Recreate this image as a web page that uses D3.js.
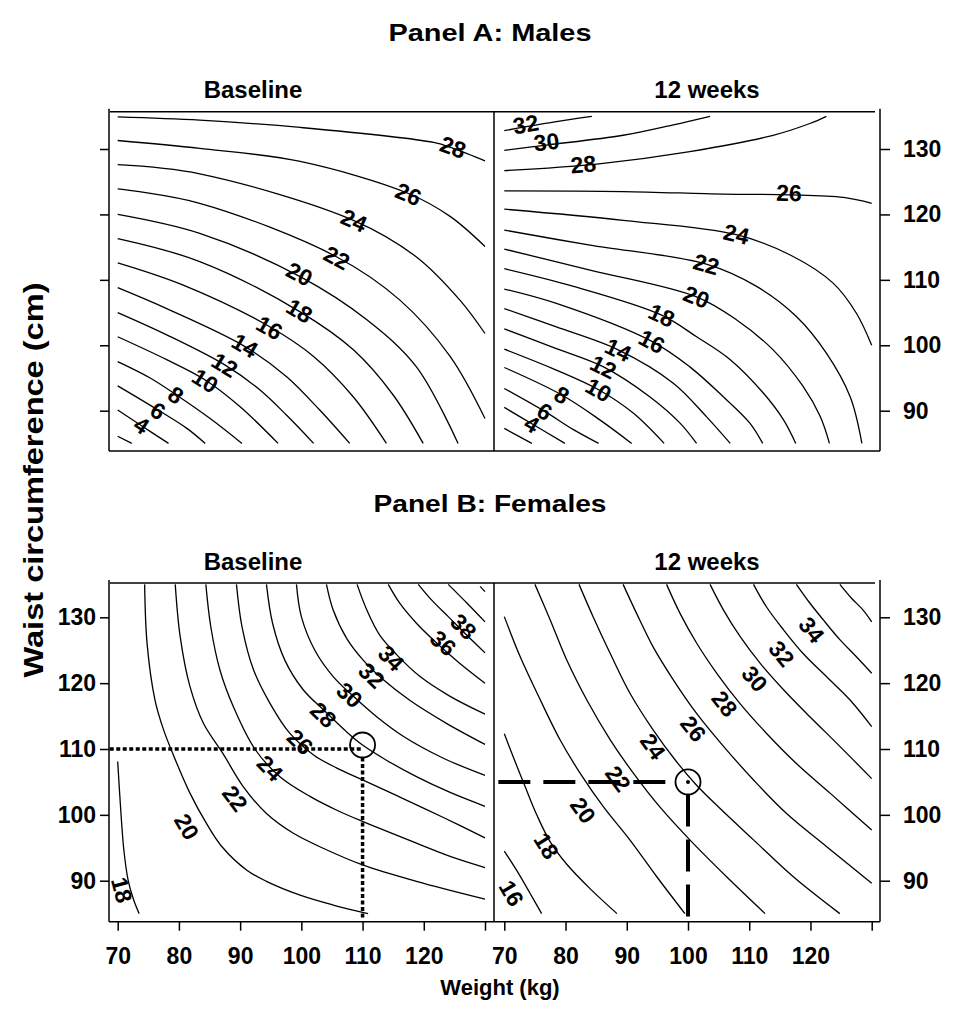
<!DOCTYPE html>
<html>
<head>
<meta charset="utf-8">
<script src="https://cdn.jsdelivr.net/npm/d3@7"></script>
<style>
  body { margin: 0; background: #fff; }
  svg { display: block; font-family: "Liberation Sans", Arial, sans-serif; font-weight: bold; }
</style>
</head>
<body>
<svg id="chart" width="959" height="1023"></svg>
<script>
// tick values
let weightTicks = [70, 80, 90, 100, 110, 120, 130];
let weightLabelled = [70, 80, 90, 100, 110, 120];
let waistTicks = [90, 100, 110, 120, 130];

let panelTitles = ["Panel A: Males", "Panel B: Females"];
let timeTitles = ["Baseline", "12 weeks"];

// contour lines: [level, [[weight, waist], ...]]
let maleBaseLines = [
  [2, [[70,86.1],[72.3,85]]],
  [4, [[70,90.1],[73.9,87.7],[78.3,85]]],
  [6, [[70,93.8],[76.6,90.1],[81.3,87.3],[84.3,85]]],
  [8, [[70,97.5],[75.3,95],[79.6,92.4],[85.1,88.8],[90.3,85]]],
  [10, [[70,101.3],[78,97.8],[84.3,94.7],[90,90.6],[96.2,85]]],
  [12, [[70,105],[78,101.6],[87.5,97],[93.2,93.2],[97.6,89.3],[102,85]]],
  [14, [[70,108.8],[78,105.6],[90.8,99.8],[97.6,95.2],[103,90.1],[107.9,85]]],
  [16, [[70,112.6],[80.7,109.2],[94.9,102.8],[102,98.3],[108.5,92.1],[113.9,85]]],
  [18, [[70,116.3],[83.4,112.8],[99.8,105.1],[108.5,99.3],[115,92.4],[119.9,85]]],
  [20, [[70,120],[83.4,117.1],[99.8,110.5],[110.7,103.9],[118.8,96.7],[125.6,85]]],
  [22, [[70,123.9],[83.4,121.7],[105.8,113.5],[116.1,106.9],[124.3,98.3],[130,88.8]]],
  [24, [[70,127.6],[83.4,126.2],[108.5,119.1],[118.8,113.5],[125.9,106.9],[130,101.8]]],
  [26, [[70,131.3],[83.4,130.1],[99.8,128.1],[117.5,123.2],[124.3,119.7],[130,115.1]]],
  [28, [[70,134.9],[83.4,134.4],[99.8,133.3],[121.6,131],[124.8,130.1],[130,128.2]]]
];
let maleBaseLabels = [[28,124.8,130.3],[26,117.5,123.1],[24,108.6,119.1],[22,105.8,113.4],[20,99.7,110.9],
  [18,99.7,105.3],[16,94.8,102.7],[14,90.8,100],[12,87.5,97],[10,84.3,94.6],[8,79.5,92.4],[6,76.6,90],[4,73.9,87.8]];

let maleWeekLines = [
  [2, [[70,87.3],[74.5,85]]],
  [4, [[70,90.5],[74.5,88],[79.9,85]]],
  [6, [[70,93.4],[76.6,89.9],[81.3,87.1],[85.4,85]]],
  [8, [[70,96.6],[79.4,92.4],[85.6,88.6],[90.8,85]]],
  [10, [[70,99.4],[78.5,96.2],[85.4,93.2],[91.1,89.6],[96.1,85]]],
  [12, [[70,102.5],[78.5,99.5],[86.2,96.7],[93.8,92.1],[98.7,88.1],[101.4,85]]],
  [14, [[70,105.6],[78.5,102.8],[88.6,99.3],[97.6,94.2],[103,89.1],[106.9,85]]],
  [16, [[70,108.6],[78.5,106.4],[94.1,100.6],[100.3,96.7],[105.8,92.1],[110.1,88.1],[112.2,85]]],
  [18, [[70,111.7],[81.3,109],[95.7,104.6],[101.4,101.3],[106.9,97.8],[112.3,92.7],[115.6,88.6],[117.6,85]]],
  [20, [[70,114.7],[84,111.5],[101.4,107.4],[107.9,103.9],[113.9,99.3],[118.8,93.7],[121.6,89.1],[123.1,85]]],
  [22, [[70,117.6],[84,115.3],[103,112.4],[111.2,109],[117.7,104.4],[122.6,98.8],[126.5,92.1],[128.4,85]]],
  [24, [[70,120.8],[89.4,119.1],[107.9,116.9],[116.7,113.8],[123.7,109.5],[127.5,104.9],[130,100]]],
  [26, [[70,123.6],[89.4,123.5],[105.8,123.1],[116.5,123],[125.4,122.6],[130,121.7]]],
  [28, [[70,126.7],[85.1,127.7],[100.3,129.6],[113.9,132.1],[119.9,133.9],[122.6,135]]],
  [30, [[70,129.8],[76.9,130.6],[89.4,132.1],[97.6,133.7],[103.6,135]]],
  [32, [[70,132.8],[73.5,133.4],[78.5,134.2],[84.3,135]]]
];
let maleWeekLabels = [[32,73.5,133.8],[30,76.9,131.1],[28,82.9,127.7],[26,116.5,123.3],[24,107.9,117],
  [22,103,112.4],[20,101.4,107.4],[18,95.7,104.6],[16,94.1,100.6],[14,88.6,99.3],[12,86.2,96.7],
  [10,85.4,93.2],[8,79.4,92.4],[6,76.6,89.9],[4,74.5,88]];

let femaleBaseLines = [
  [18, [[70,108.1],[70.5,100.7],[71,94.7],[71.7,90.1],[72.6,87.1],[73.5,85]]],
  [20, [[74.4,135],[74.8,126],[76.1,117.4],[77.5,112.9],[79,109.3],[81.8,103.3],[84.5,98.7],[87,95.2],[91.1,91.6],[94.3,89.9],[99.8,87.8],[105.2,86.3],[110.9,85]]],
  [22, [[79.4,135],[80.2,127.1],[81.8,119.5],[84,113.9],[87.2,109.3],[90.5,104.3],[94.3,100.2],[98.7,97.2],[104.1,94.7],[110,92.4],[118.8,89.9],[130,87.2]]],
  [24, [[84.4,135],[85.2,128.6],[86.7,122],[88.9,116.4],[92.4,110],[96.5,105.8],[101.4,102.8],[105.8,100.7],[110,99],[118.8,95.7],[124.3,93.7],[130,92]]],
  [26, [[89.4,135],[90.3,128.6],[92.2,122],[94.9,116.9],[98.1,112.4],[102,109.1],[105.8,107.1],[110,105.3],[116.1,102.7],[123.2,99.6],[130,96.5]]],
  [28, [[94.3,135],[95.3,129.1],[97.3,123.5],[100.3,119],[103.9,115.7],[107.4,112.6],[110,110.6],[113.9,108.3],[118.8,105.8],[124.3,103.4],[130,101.3]]],
  [30, [[99.2,135],[100,130.1],[102.2,125],[105.2,121],[108.5,118],[112.3,114.9],[116.7,111.9],[123.2,108.6],[130,106]]],
  [32, [[104.1,135],[105.2,131.1],[107.4,126.8],[110.1,123.5],[113.4,120.5],[117.7,117.4],[123.7,113.9],[130,110.7]]],
  [34, [[109.1,135],[110.7,131.1],[112.8,127.3],[115.6,124.3],[119.4,121],[124.3,118],[130,115.3]]],
  [36, [[114.2,135],[116.1,132.1],[118.8,129.1],[122.1,126.1],[125.9,123],[130,120]]],
  [38, [[119.1,135],[121.3,132.6],[124,130.1],[127,127.3],[130,124.6]]],
  [40, [[124,135],[127,132.2],[130,129.3]]],
  [42, [[129.2,134.7],[130,133.9]]]
];
let femaleBaseLabels = [[18,70.7,88.6],[20,81.3,98.2],[22,89.2,102.5],[24,94.9,107.1],[26,99.8,111.1],
  [28,103.6,115.2],[30,107.9,118.2],[32,111.5,121.2],[34,114.7,123.8],[36,123.2,126.1],[38,126.5,128.6]];

let femaleWeekLines = [
  [16, [[70,94.5],[72,91.6],[74.2,88.1],[76.1,85]]],
  [18, [[70,112.3],[71.5,108.7],[73.4,104.3],[75.3,100],[77.5,95.9],[80.2,92.5],[84,88.8],[88.4,85]]],
  [20, [[70,130.1],[72.6,124],[75.6,118],[79.1,111.4],[82.4,106.3],[86.2,101.2],[90.5,96.2],[94.9,90.6],[99.5,85]]],
  [22, [[75,135],[77.5,129.6],[80.2,123.5],[83.5,117.4],[87.3,111.4],[91.1,106.3],[95.4,101.2],[100.3,96.2],[106.3,90.6],[112.6,85]]],
  [24, [[82.2,135],[84.5,130.1],[87.3,124.5],[90.5,118.5],[94.3,112.9],[98.1,108.1],[101.4,104.5],[105.2,101],[110.7,96.2],[117.2,90.6],[124.8,85]]],
  [26, [[89.4,135],[91.6,130.6],[94.3,125.5],[97.6,120.5],[101.4,115.4],[105.8,110.4],[110.7,105.3],[116.1,100.2],[122.6,95.2],[130,89.6]]],
  [28, [[96.5,135],[98.7,130.6],[101.4,126.1],[104.7,121.5],[108.5,116.9],[112.8,112.4],[117.7,107.8],[123.2,103.3],[130,97.7]]],
  [30, [[103.6,135],[105.8,131.1],[108.5,127.1],[111.8,123],[115.6,119],[119.9,114.9],[124.8,110.4],[130,105.5]]],
  [32, [[110.7,135],[112.8,131.6],[115.6,128.1],[118.8,124.5],[122.6,121],[126.5,117.4],[130,113.4]]],
  [34, [[117.7,135],[119.7,132.4],[122.1,129.6],[124.8,126.6],[127.5,124],[130,121.5]]],
  [36, [[124.8,135],[126.7,132.9],[128.6,131.1],[130,129.3]]]
];
let femaleWeekLabels = [[16,71.2,88.1],[18,76.9,95.3],[20,82.9,100.7],[22,88.6,105.5],[24,94.3,110.4],
  [26,100.9,113.1],[28,106,116.9],[30,110.9,120.7],[32,115.3,124.5],[34,120.2,128.1]];

// worked examples in panel B: [weight, waist]
let femaleBasePoint = [110, 110];
let femaleWeekPoint = [100, 105];
let axisMinWeight = 68.7;
let axisMinWaist = 84.2;

// layout
let frameX = { left: 109, mid: 494, right: 880 };
let rows = [
  { top: 111.7, bottom: 451, y: [410.7, 149], title: 41, sub: 98.3 },
  { top: 583, bottom: 921.7, y: [880.7, 617.3], title: 511.7, sub: 569.5 }
];
let xLeft = d3.scaleLinear().domain([70, 130]).range([117.7, 485]);
let xRight = d3.scaleLinear().domain([70, 130]).range([504.3, 871.7]);

let svg = d3.select("#chart");

function drawPanel(g, lines, labels, x, y) {
    let line = d3.line()
        .x(d => x(d[0]))
        .y(d => y(d[1]))
        .curve(d3.curveCatmullRom.alpha(0.5));

    let paths = g.selectAll("path.contour")
        .data(lines)
        .join("path")
        .attr("class", "contour")
        .attr("d", d => line(d[1]))
        .attr("fill", "none")
        .attr("stroke", "#000")
        .attr("stroke-width", 1.3);

    let byLevel = {};
    paths.each(function (d) { byLevel[d[0]] = this; });

    // labels follow the direction of their line
    for (let lab of labels) {
        let px = x(lab[1]), py = y(lab[2]);
        let node = byLevel[lab[0]];
        let ang = 0;
        if (node) {
            let len = node.getTotalLength();
            let best = 0, bd = Infinity;
            for (let s = 0; s <= len; s += 1) {
                let p = node.getPointAtLength(s);
                let dd = (p.x - px) ** 2 + (p.y - py) ** 2;
                if (dd < bd) { bd = dd; best = s; }
            }
            let a = node.getPointAtLength(Math.max(0, best - 8));
            let b = node.getPointAtLength(Math.min(len, best + 8));
            ang = Math.atan2(b.y - a.y, b.x - a.x) * 180 / Math.PI;
            if (ang > 90) ang -= 180;
            if (ang < -90) ang += 180;
        }
        g.append("text")
            .attr("transform", "translate(" + px + "," + py + ") rotate(" + ang + ")")
            .attr("text-anchor", "middle")
            .attr("dy", "0.36em")
            .attr("font-size", 23)
            .text(lab[0]);
    }
}

rows.forEach(function (r, i) {
    let y = d3.scaleLinear().domain([90, 130]).range(r.y);
    let g = svg.append("g");

    // frame
    let fr = g.append("g").attr("stroke", "#000").attr("stroke-width", 1.5);
    fr.append("line").attr("x1", frameX.left + 1).attr("x2", 875).attr("y1", r.top).attr("y2", r.top);
    fr.append("line").attr("x1", frameX.left).attr("x2", frameX.right).attr("y1", r.bottom).attr("y2", r.bottom);
    fr.append("line").attr("x1", frameX.left).attr("x2", frameX.left).attr("y1", r.top - 3).attr("y2", r.bottom);
    fr.append("line").attr("x1", frameX.right).attr("x2", frameX.right).attr("y1", r.top - 3).attr("y2", r.bottom);
    fr.append("line").attr("x1", frameX.mid).attr("x2", frameX.mid).attr("y1", r.top).attr("y2", r.bottom);

    // left axis (labels only in the lower row)
    let left = g.append("g").attr("transform", "translate(" + frameX.left + ",0)")
        .call(d3.axisLeft(y).tickValues(waistTicks).tickSize(9).tickPadding(4)
            .tickFormat(d => i === 1 ? d : ""));
    let right = g.append("g").attr("transform", "translate(" + frameX.right + ",0)")
        .call(d3.axisRight(y).tickValues(waistTicks).tickSize(10).tickPadding(13));
    [left, right].forEach(a => {
        a.select(".domain").remove();
        a.selectAll("line").attr("stroke-width", 1.5);
        a.selectAll("text").attr("font-size", 23).attr("font-weight", "bold");
        a.attr("font-family", null).attr("font-size", null);
    });

    if (i === 1) {
        [xLeft, xRight].forEach(x => {
            let ax = g.append("g").attr("transform", "translate(0," + r.bottom + ")")
                .call(d3.axisBottom(x).tickValues(weightTicks).tickSize(9).tickPadding(17)
                    .tickFormat(d => weightLabelled.includes(d) ? d : ""));
            ax.select(".domain").remove();
            ax.selectAll("line").attr("stroke-width", 1.5);
            ax.selectAll("text").attr("font-size", 23).attr("font-weight", "bold");
            ax.attr("font-family", null).attr("font-size", null);
        });
    }

    // titles
    svg.append("text")
        .attr("x", 490).attr("y", r.title)
        .attr("text-anchor", "middle")
        .attr("font-size", 24)
        .attr("textLength", i === 0 ? 203 : 233)
        .attr("lengthAdjust", "spacingAndGlyphs")
        .text(panelTitles[i]);
    svg.append("text").attr("x", 253).attr("y", r.sub).attr("text-anchor", "middle")
        .attr("font-size", 24).text(timeTitles[0]);
    svg.append("text").attr("x", 707).attr("y", r.sub).attr("text-anchor", "middle")
        .attr("font-size", 24).text(timeTitles[1]);

    let gl = g.append("g"), gr = g.append("g");
    if (i === 0) {
        drawPanel(gl, maleBaseLines, maleBaseLabels, xLeft, y);
        drawPanel(gr, maleWeekLines, maleWeekLabels, xRight, y);
    } else {
        drawPanel(gl, femaleBaseLines, femaleBaseLabels, xLeft, y);
        drawPanel(gr, femaleWeekLines, femaleWeekLabels, xRight, y);

        let rad = 12.5;
        // baseline example: dotted guides
        let bx = xLeft(femaleBasePoint[0]), by = y(femaleBasePoint[1]);
        gl.append("line").attr("x1", xLeft(axisMinWeight)).attr("x2", bx).attr("y1", by).attr("y2", by)
            .attr("stroke", "#000").attr("stroke-width", 3.5).attr("stroke-dasharray", "4,2.5");
        gl.append("line").attr("x1", bx).attr("x2", bx).attr("y1", by + rad - 4).attr("y2", y(axisMinWaist))
            .attr("stroke", "#000").attr("stroke-width", 3.5).attr("stroke-dasharray", "4,2.5");
        gl.append("circle").attr("cx", bx).attr("cy", by - 4).attr("r", rad)
            .attr("fill", "none").attr("stroke", "#000").attr("stroke-width", 1.8);

        // 12 week example: dashed guides
        let wx = xRight(femaleWeekPoint[0]), wy = y(femaleWeekPoint[1]);
        gr.append("line").attr("x1", xRight(axisMinWeight) + 2).attr("x2", wx - rad).attr("y1", wy).attr("y2", wy)
            .attr("stroke", "#000").attr("stroke-width", 4).attr("stroke-dasharray", "32,13");
        gr.append("line").attr("x1", wx).attr("x2", wx).attr("y1", wy + rad).attr("y2", y(axisMinWaist))
            .attr("stroke", "#000").attr("stroke-width", 4).attr("stroke-dasharray", "32,13");
        gr.append("circle").attr("cx", wx).attr("cy", wy).attr("r", rad)
            .attr("fill", "none").attr("stroke", "#000").attr("stroke-width", 1.8);
        gr.append("circle").attr("cx", wx).attr("cy", wy).attr("r", 2).attr("fill", "#000");
    }
});

// axis titles
svg.append("text")
    .attr("transform", "translate(43,480) rotate(-90)")
    .attr("text-anchor", "middle")
    .attr("font-size", 28)
    .attr("textLength", 395)
    .attr("lengthAdjust", "spacingAndGlyphs")
    .text("Waist circumference (cm)");
svg.append("text")
    .attr("x", 500).attr("y", 995)
    .attr("text-anchor", "middle")
    .attr("font-size", 22)
    .text("Weight (kg)");
</script>
</body>
</html>
